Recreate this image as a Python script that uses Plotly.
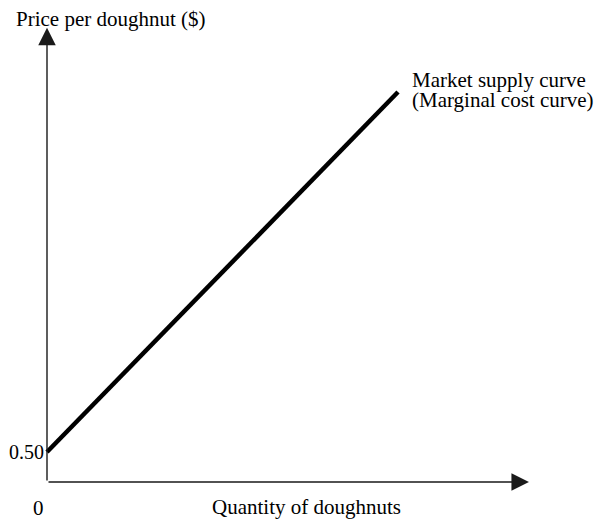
import plotly.graph_objects as go

# supply curve: price rises with quantity, starting at $0.50
quantity = [0, 10]
price = [0.50, 6.50]

y_title = "Price per doughnut ($)"
x_title = "Quantity of doughnuts"
curve_label = ["Market supply curve", "(Marginal cost curve)"]
price_tick = "0.50"
origin_tick = "0"

# the page body adds an 8px margin, so the figure is 8px smaller each way
W, H = 595, 511
font = dict(family="Liberation Serif, Times New Roman, serif", size=21, color="black")
small = dict(font, size=20)

fig = go.Figure()
fig.add_trace(go.Scatter(x=quantity, y=price, mode="lines",
                         line=dict(color="black", width=4.5), showlegend=False,
                         hoverinfo="skip"))

# axis arrows
fig.add_annotation(x=0, y=7.57, ax=0, ay=0, axref="x", ayref="y", text="",
                   showarrow=True, arrowhead=2, arrowwidth=1.4, arrowsize=2.5,
                   arrowcolor="#1a1a1a")
fig.add_annotation(x=13.73, y=0, ax=0, ay=0, axref="x", ayref="y", text="",
                   showarrow=True, arrowhead=2, arrowwidth=1.4, arrowsize=2.5,
                   arrowcolor="#1a1a1a")

# labels
fig.add_annotation(x=0, y=price[0], text=price_tick, showarrow=False,
                   xanchor="right", yanchor="middle", xshift=-2, borderpad=0,
                   font=small)
fig.add_annotation(x=0, y=0, text=origin_tick, showarrow=False,
                   xanchor="center", yanchor="middle", xshift=-9, yshift=-26,
                   borderpad=0, font=font)
fig.add_annotation(x=298 / W, y=1 - 499 / H, xref="paper", yref="paper",
                   text=x_title, showarrow=False, xanchor="center", yanchor="middle",
                   borderpad=0, font=font)
fig.add_annotation(x=7 / W, y=1 - 11 / H, xref="paper", yref="paper",
                   text=y_title, showarrow=False, xanchor="left", yanchor="middle",
                   borderpad=0, font=font)
fig.add_annotation(x=quantity[-1], y=price[-1], text=curve_label[0], showarrow=False,
                   xanchor="left", yanchor="middle", xshift=13, yshift=12,
                   borderpad=0, font=font)
fig.add_annotation(x=quantity[-1], y=price[-1], text=curve_label[1], showarrow=False,
                   xanchor="left", yanchor="middle", xshift=13, yshift=-8,
                   borderpad=0, font=font)

fig.update_xaxes(range=[-39 / 35.1, 556 / 35.1], visible=False)
fig.update_yaxes(range=[-37 / 60, 474 / 60], visible=False)
fig.update_layout(width=W, height=H, margin=dict(l=0, r=0, t=0, b=0),
                  plot_bgcolor="white", paper_bgcolor="white")

fig.write_html("out.html")
